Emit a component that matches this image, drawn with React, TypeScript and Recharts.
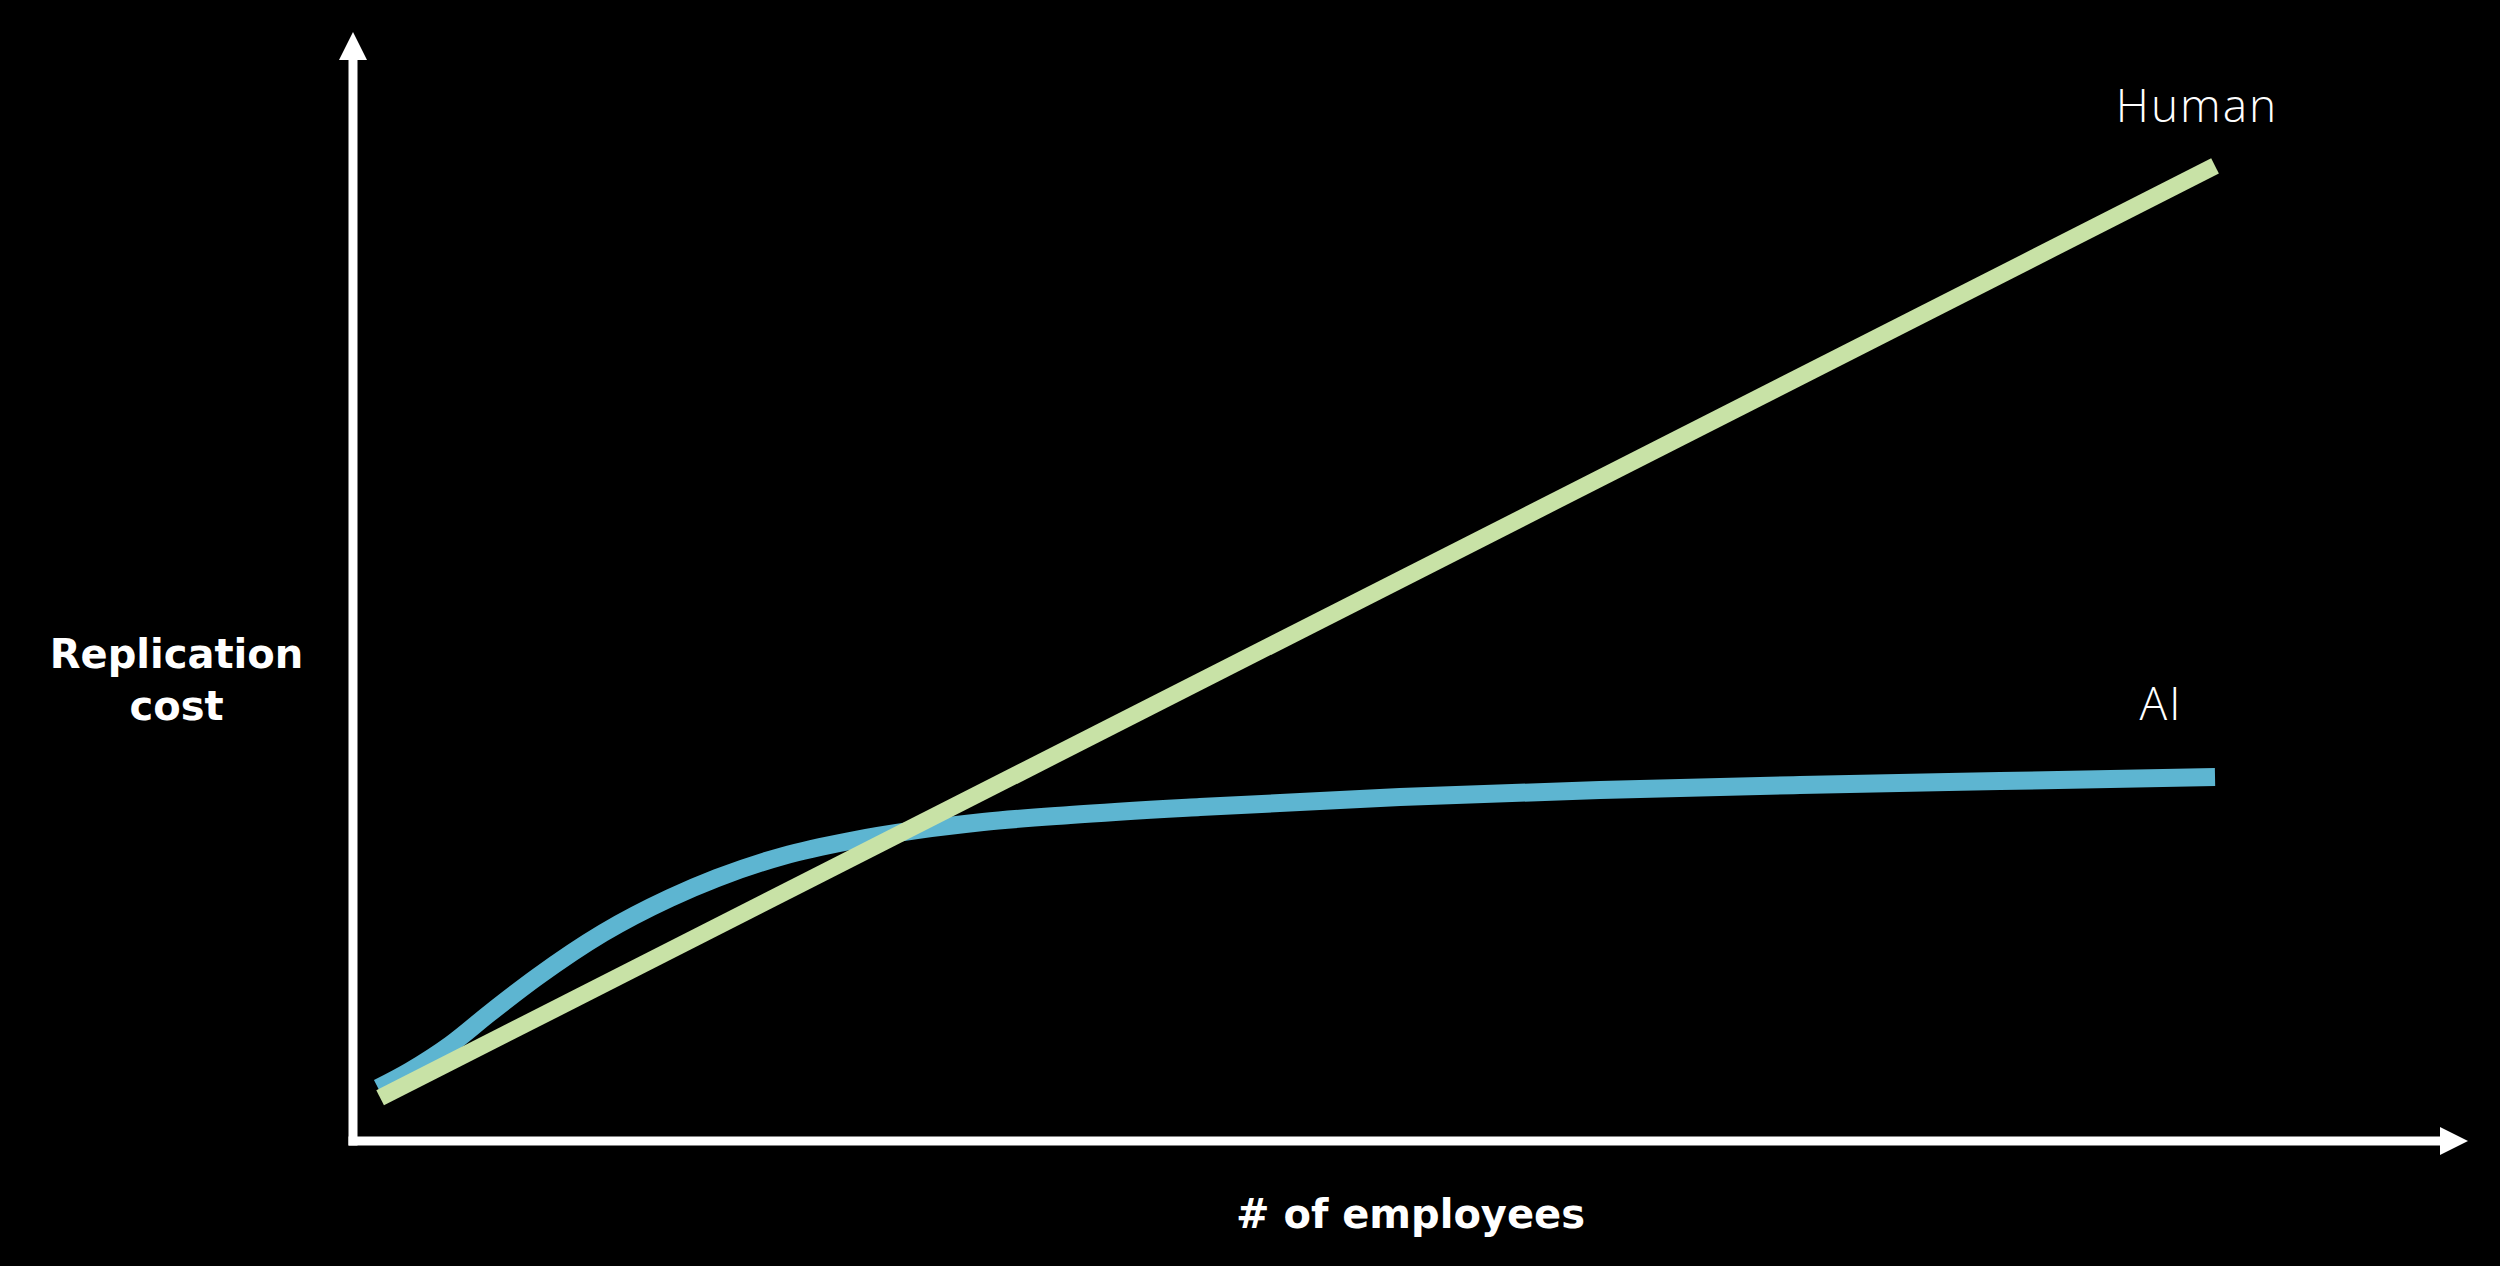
import React from "react";
import {
  LineChart,
  Line,
  XAxis,
  YAxis,
  ReferenceDot,
  LabelList,
} from "recharts";

// ---- data ----
const aiEmployees = [1.2, 2.73, 4.65, 6.56, 8.82, 11.98, 15.19, 17.44, 20.6, 23.81, 27.02, 30.19, 34.36, 40.58, 50.17, 59.75, 69.33, 78.92, 89.22];
const aiCost = [4.9, 6.48, 8.88, 11.84, 15.17, 19.24, 22.48, 24.33, 26.36, 27.75, 28.77, 29.51, 30.16, 30.9, 31.82, 32.47, 32.93, 33.3, 33.67];
const humanEmployees = [1.3, 89.22];
const humanCost = [4.0, 90.2];
const seriesNames = ["AI", "Human"];
const xAxisTitle = "# of employees";
const yAxisTitleLines = ["Replication", "cost"];
const xDomain = [0, 100];
const yDomain = [0, 100];

const aiData = aiEmployees.map((x, i) => ({ x, cost: aiCost[i] }));
const humanData = humanEmployees.map((x, i) => ({ x, cost: humanCost[i] }));

const BLUE = "#5db5d1";
const GREEN = "#c8e2a6";
const WHITE = "#ffffff";

const titleFont = "'DejaVu Sans', 'Open Sans', sans-serif";
const seriesFont = "'Open Sans', 'Lato', sans-serif";

const makeEndLabel = (name: string, count: number, dx: number, dy: number) => (props: any) => {
  const { x, y, index } = props;
  if (index !== count - 1) return null;
  return (
    <text
      x={Number(x) + dx}
      y={Number(y) + dy}
      textAnchor="middle"
      fill={WHITE}
      fontFamily={seriesFont}
      fontWeight={300}
      fontSize={46}
      letterSpacing={2}
    >
      {name}
    </text>
  );
};

const renderYTitle = (props: any) => {
  const vb = props.viewBox || {};
  const cx = (vb.x ?? 0) + (vb.width ?? 353) / 2;
  const top = vb.y ?? 60;
  return (
    <text
      textAnchor="middle"
      fill={WHITE}
      fontFamily={titleFont}
      fontWeight={700}
      fontSize={40}
    >
      {yAxisTitleLines.map((line, i) => (
        <tspan key={line} x={cx} y={top + 608 + i * 52}>
          {line}
        </tspan>
      ))}
    </text>
  );
};

const renderXTitle = (props: any) => {
  const vb = props.viewBox || {};
  const cx = (vb.x ?? 353) + (vb.width ?? 2087) / 2 + 14;
  const top = vb.y ?? 1141;
  return (
    <text
      x={cx}
      y={top + 87}
      textAnchor="middle"
      fill={WHITE}
      fontFamily={titleFont}
      fontWeight={700}
      fontSize={40}
    >
      {xAxisTitle}
    </text>
  );
};

const RightArrow = (props: any) => {
  const { cx, cy } = props;
  return (
    <polygon
      points={`${cx},${cy - 14} ${cx + 28},${cy} ${cx},${cy + 14}`}
      fill={WHITE}
    />
  );
};

const UpArrow = (props: any) => {
  const { cx, cy } = props;
  return (
    <polygon
      points={`${cx - 14},${cy} ${cx},${cy - 28} ${cx + 14},${cy}`}
      fill={WHITE}
    />
  );
};

export default function App() {
  return (
    <div
      style={{
        position: "fixed",
        left: 0,
        top: 0,
        width: 2500,
        height: 1266,
        background: "#000",
        overflow: "hidden",
      }}
    >
      <LineChart
        width={2500}
        height={1266}
        margin={{ top: 60, right: 60, bottom: 0, left: 0 }}
      >
        <XAxis
          type="number"
          dataKey="x"
          domain={xDomain}
          allowDataOverflow
          height={125}
          tick={false}
          tickLine={false}
          axisLine={{ stroke: WHITE, strokeWidth: 9, strokeLinecap: "square" }}
          label={renderXTitle}
        />
        <YAxis
          type="number"
          dataKey="cost"
          domain={yDomain}
          allowDataOverflow
          width={353}
          tick={false}
          tickLine={false}
          axisLine={{ stroke: WHITE, strokeWidth: 9, strokeLinecap: "square" }}
          label={renderYTitle}
        />
        <Line
          data={aiData}
          dataKey="cost"
          type="monotone"
          stroke={BLUE}
          strokeWidth={18}
          dot={false}
          activeDot={false}
          isAnimationActive={false}
        >
          <LabelList dataKey="cost" content={makeEndLabel(seriesNames[0], aiData.length, -54, -57)} />
        </Line>
        <Line
          data={humanData}
          dataKey="cost"
          type="linear"
          stroke={GREEN}
          strokeWidth={17}
          dot={false}
          activeDot={false}
          isAnimationActive={false}
        >
          <LabelList dataKey="cost" content={makeEndLabel(seriesNames[1], humanData.length, -18, -44)} />
        </Line>
        <ReferenceDot x={xDomain[1]} y={yDomain[0]} r={0} shape={RightArrow} ifOverflow="visible" />
        <ReferenceDot x={xDomain[0]} y={yDomain[1]} r={0} shape={UpArrow} ifOverflow="visible" />
      </LineChart>
    </div>
  );
}
